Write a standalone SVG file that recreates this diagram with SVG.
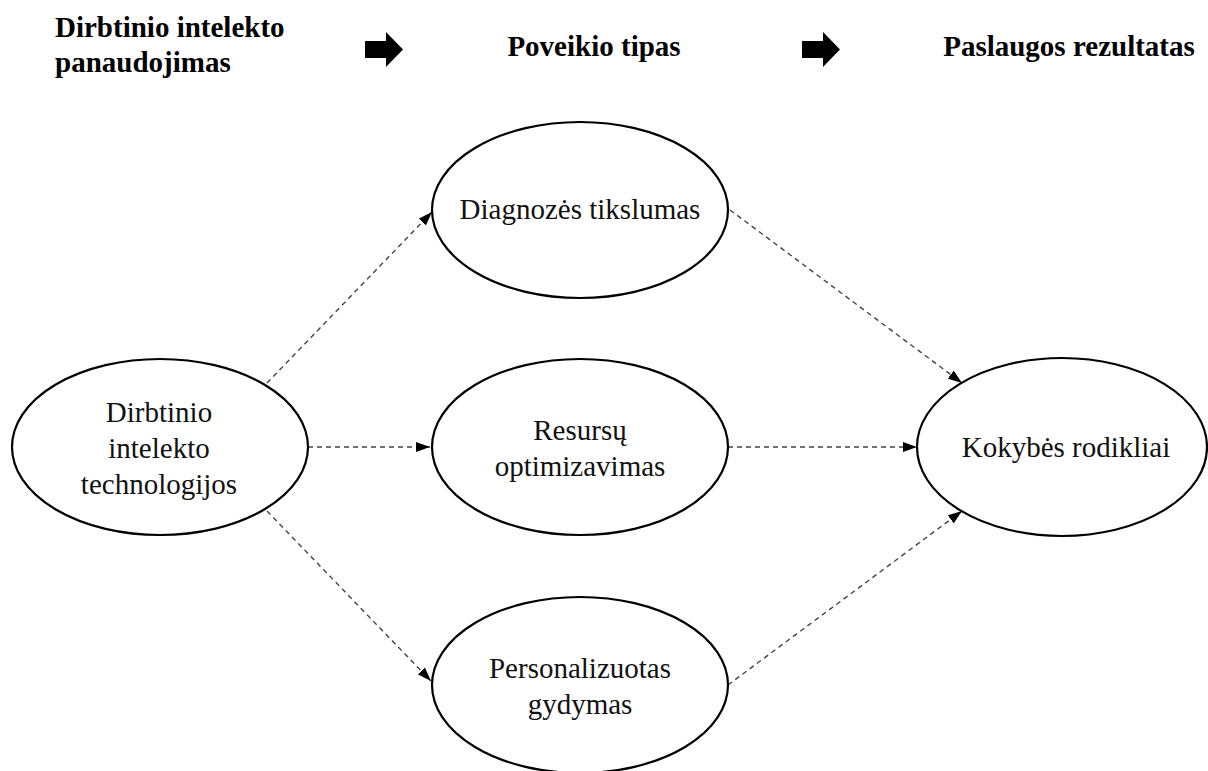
<svg xmlns="http://www.w3.org/2000/svg" width="1208" height="771" viewBox="0 0 1208 771">
  <style>
    .hdr { font-family: 'Liberation Serif', 'Tinos', 'DejaVu Serif', serif; font-size: 29px; font-weight: bold; fill: #000; }
    .lbl { font-family: 'Liberation Serif', 'Tinos', 'DejaVu Serif', serif; font-size: 29px; fill: #111; text-anchor: middle; }
    .node { fill: #fff; stroke: #000; stroke-width: 2.2; }
    .link { fill: none; stroke: #444; stroke-width: 1.4; stroke-dasharray: 5 4; }
    .flow { fill: #000; }
  </style>
  <defs>
    <marker id="tip" viewBox="0 0 14 10" refX="14" refY="5" markerWidth="14" markerHeight="10" markerUnits="userSpaceOnUse" orient="auto">
      <path d="M0,0 L14,5 L0,10 z" fill="#000"/>
    </marker>
  </defs>

  <!-- column headings -->
  <g id="headings">
    <text class="hdr" x="55" y="37">Dirbtinio intelekto</text>
    <text class="hdr" x="55" y="72">panaudojimas</text>
    <text class="hdr" x="594" y="56" text-anchor="middle">Poveikio tipas</text>
    <text class="hdr" x="1069" y="56" text-anchor="middle">Paslaugos rezultatas</text>
  </g>

  <!-- block arrows between headings -->
  <g id="heading-arrows">
    <path class="flow" d="M365,41 H386 V32 L403,49.5 L386,67 V58 H365 z"/>
    <path class="flow" d="M802,41 H823 V32 L840,49.5 L823,67 V58 H802 z"/>
  </g>

  <!-- dashed connectors -->
  <g id="connectors">
    <line class="link" x1="267" y1="383" x2="432" y2="212" marker-end="url(#tip)"/>
    <line class="link" x1="308" y1="447" x2="430" y2="447" marker-end="url(#tip)"/>
    <line class="link" x1="267" y1="511" x2="431" y2="681" marker-end="url(#tip)"/>
    <line class="link" x1="730" y1="210" x2="962" y2="383" marker-end="url(#tip)"/>
    <line class="link" x1="728" y1="447" x2="917" y2="447" marker-end="url(#tip)"/>
    <line class="link" x1="728" y1="685" x2="962" y2="511" marker-end="url(#tip)"/>
  </g>

  <g id="node-ai">
    <ellipse class="node" cx="160" cy="447" rx="148" ry="88"/>
    <text class="lbl" x="159" y="422">Dirbtinio</text>
    <text class="lbl" x="159" y="458">intelekto</text>
    <text class="lbl" x="159" y="494">technologijos</text>
  </g>

  <g id="node-diagnosis">
    <ellipse class="node" cx="580" cy="210" rx="148" ry="88"/>
    <text class="lbl" x="580" y="219">Diagnozės tikslumas</text>
  </g>

  <g id="node-resources">
    <ellipse class="node" cx="580" cy="447" rx="148" ry="88"/>
    <text class="lbl" x="580" y="440">Resursų</text>
    <text class="lbl" x="580" y="476">optimizavimas</text>
  </g>

  <g id="node-treatment">
    <ellipse class="node" cx="580" cy="685" rx="148" ry="88"/>
    <text class="lbl" x="580" y="678">Personalizuotas</text>
    <text class="lbl" x="580" y="714">gydymas</text>
  </g>

  <g id="node-quality">
    <ellipse class="node" cx="1062" cy="447" rx="145" ry="89"/>
    <text class="lbl" x="1066" y="457">Kokybės rodikliai</text>
  </g>
</svg>
